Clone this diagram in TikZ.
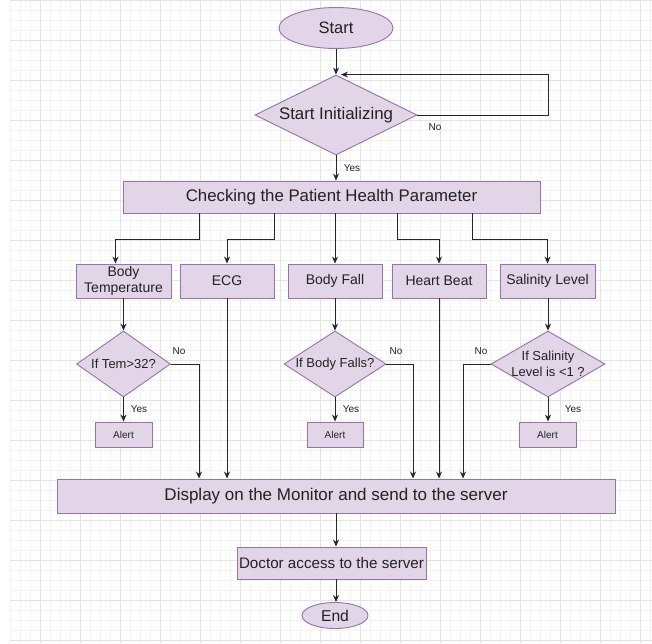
\documentclass[tikz,border=0pt]{standalone}
\usepackage{fontspec}
\setmainfont{Liberation Sans}
\usetikzlibrary{shapes.geometric,arrows.meta}
\definecolor{boxfill}{HTML}{E1D5E7}
\definecolor{boxline}{HTML}{9673A6}
\definecolor{inkgray}{HTML}{222222}
\tikzset{>=stealth}
\tikzset{
  procbox/.style={draw=boxline,fill=boxfill,line width=0.9pt,inner sep=0pt,align=center,text=inkgray,font=\fontsize{14}{16}\selectfont},
  decide/.style={diamond,draw=boxline,fill=boxfill,line width=0.9pt,inner sep=0pt},
  dtext/.style={align=center,text=inkgray,inner sep=0pt,font=\fontsize{13}{16}\selectfont},
  term/.style={ellipse,draw=boxline,fill=boxfill,line width=0.9pt,inner sep=0pt,text=inkgray,font=\fontsize{16.5}{18}\selectfont},
  arr/.style={-{Stealth[length=7pt,width=6pt]},line width=0.9pt,black!85},
  lbl/.style={text=inkgray,font=\fontsize{10}{11}\selectfont}
}

\begin{document}
\begin{tikzpicture}[x=1pt,y=-1pt]
        % Background grid
        \useasboundingbox (0,0) rectangle (652,643);
        \fill[white] (0,0) rectangle (652,643);
        \draw[gray!10,line width=0.4pt,step=10pt] (10,0) grid (652,643);
        \draw[gray!22,line width=0.5pt,step=40pt] (10,0) grid (652,643);

        % Top
        \node[term,minimum width=114pt,minimum height=41pt] at (336,28) (start) {Start};
        \node[decide,minimum width=162pt,minimum height=80pt,label={[dtext,font=\fontsize{16.8}{18}\selectfont]center:Start Initializing}] at (336,115) (init) {};
        \node[procbox,minimum width=417pt,minimum height=32pt,font=\fontsize{16.8}{18}\selectfont] at (331.5,197) (check) {Checking the Patient Health Parameter};

        % Parameters
        \node[procbox,minimum width=95pt,minimum height=34pt] at (123.5,281) (btemp) {Body\\Temperature};
        \node[procbox,minimum width=94pt,minimum height=34pt] at (227,281) (ecg) {ECG};
        \node[procbox,minimum width=94pt,minimum height=34pt] at (335,281) (bfall) {Body Fall};
        \node[procbox,minimum width=94pt,minimum height=34pt] at (439,281) (hbeat) {Heart Beat};
        \node[procbox,minimum width=95pt,minimum height=34pt] at (547.5,281) (salin) {Salinity Level};

        % Decisions
        \node[decide,minimum width=94pt,minimum height=66pt,label={[dtext]center:If Tem>32?}] at (123.5,364) (tcheck) {};
        \node[decide,minimum width=102pt,minimum height=66pt,label={[dtext]center:If Body Falls?}] at (335,364) (fcheck) {};
        \node[decide,minimum width=114pt,minimum height=66pt,label={[dtext]center:If Salinity\\Level is <1 ?}] at (548,364) (scheck) {};

        % Alerts
        \node[procbox,minimum width=57pt,minimum height=25pt,font=\fontsize{10}{11}\selectfont] at (123.5,434.5) (talert) {Alert};
        \node[procbox,minimum width=56pt,minimum height=25pt,font=\fontsize{10}{11}\selectfont] at (335,434.5) (falert) {Alert};
        \node[procbox,minimum width=57pt,minimum height=25pt,font=\fontsize{10}{11}\selectfont] at (547.5,434.5) (salert) {Alert};

        % Bottom
        \node[procbox,minimum width=558pt,minimum height=34pt,font=\fontsize{17}{19}\selectfont] at (336,496) (disp) {Display on the Monitor and send to the server};
        \node[procbox,minimum width=189pt,minimum height=32pt,font=\fontsize{15.2}{17}\selectfont] at (331.5,563) (doc) {Doctor access to the server};
        \node[term,minimum width=66pt,minimum height=26pt,font=\fontsize{15.7}{17}\selectfont] at (335,615.5) (endn) {End};

        % Arrows
        \draw[arr] (start) -- (init);
        \draw[arr] (init.east) -- (548,115) |- ([xshift=5pt]init.north);
        \draw[arr] (init.south) -- (init.south |- check.north);
        \draw[arr] (check.south -| 199,0) -- (199,239) -| ([xshift=-8pt]btemp.north);
        \draw[arr] (check.south -| 274,0) -- (274,239) -| (ecg.north);
        \draw[arr] (bfall.north |- check.south) -- (bfall.north);
        \draw[arr] (check.south -| 397,0) -- (397,239) -| (hbeat.north);
        \draw[arr] (check.south -| 472,0) -- (472,239) -| (salin.north);

        \draw[arr] (btemp.south -| tcheck.north) -- (tcheck.north);
        \draw[arr] (bfall) -- (fcheck);
        \draw[arr] (salin.south -| scheck.north) -- (scheck.north);
        \draw[arr] (tcheck.south) -- (tcheck.south |- talert.north);
        \draw[arr] (fcheck) -- (falert);
        \draw[arr] (scheck.south) -- (scheck.south |- salert.north);

        \draw[arr] (tcheck.east) -| (disp.north -| 199,0);
        \draw[arr] (ecg.south) -- (ecg.south |- disp.north);
        \draw[arr] (fcheck.east) -| (disp.north -| 413,0);
        \draw[arr] (hbeat.south) -- (hbeat.south |- disp.north);
        \draw[arr] (scheck.west) -| (disp.north -| 463,0);

        \draw[arr] (disp.south) -- (disp.south |- doc.north);
        \draw[arr] (doc.south -| disp.south) -- (endn.north -| disp.south);

        % Labels
        \node[lbl] at (435,127) (initno) {No};
        \node[lbl] at (352,168) (inityes) {Yes};
        \node[lbl] at (179,351) (tno) {No};
        \node[lbl] at (139,409) (tyes) {Yes};
        \node[lbl] at (396,351) (fno) {No};
        \node[lbl] at (351,409) (fyes) {Yes};
        \node[lbl] at (481,351) (sno) {No};
        \node[lbl] at (573,409) (syes) {Yes};
\end{tikzpicture}
\end{document}
